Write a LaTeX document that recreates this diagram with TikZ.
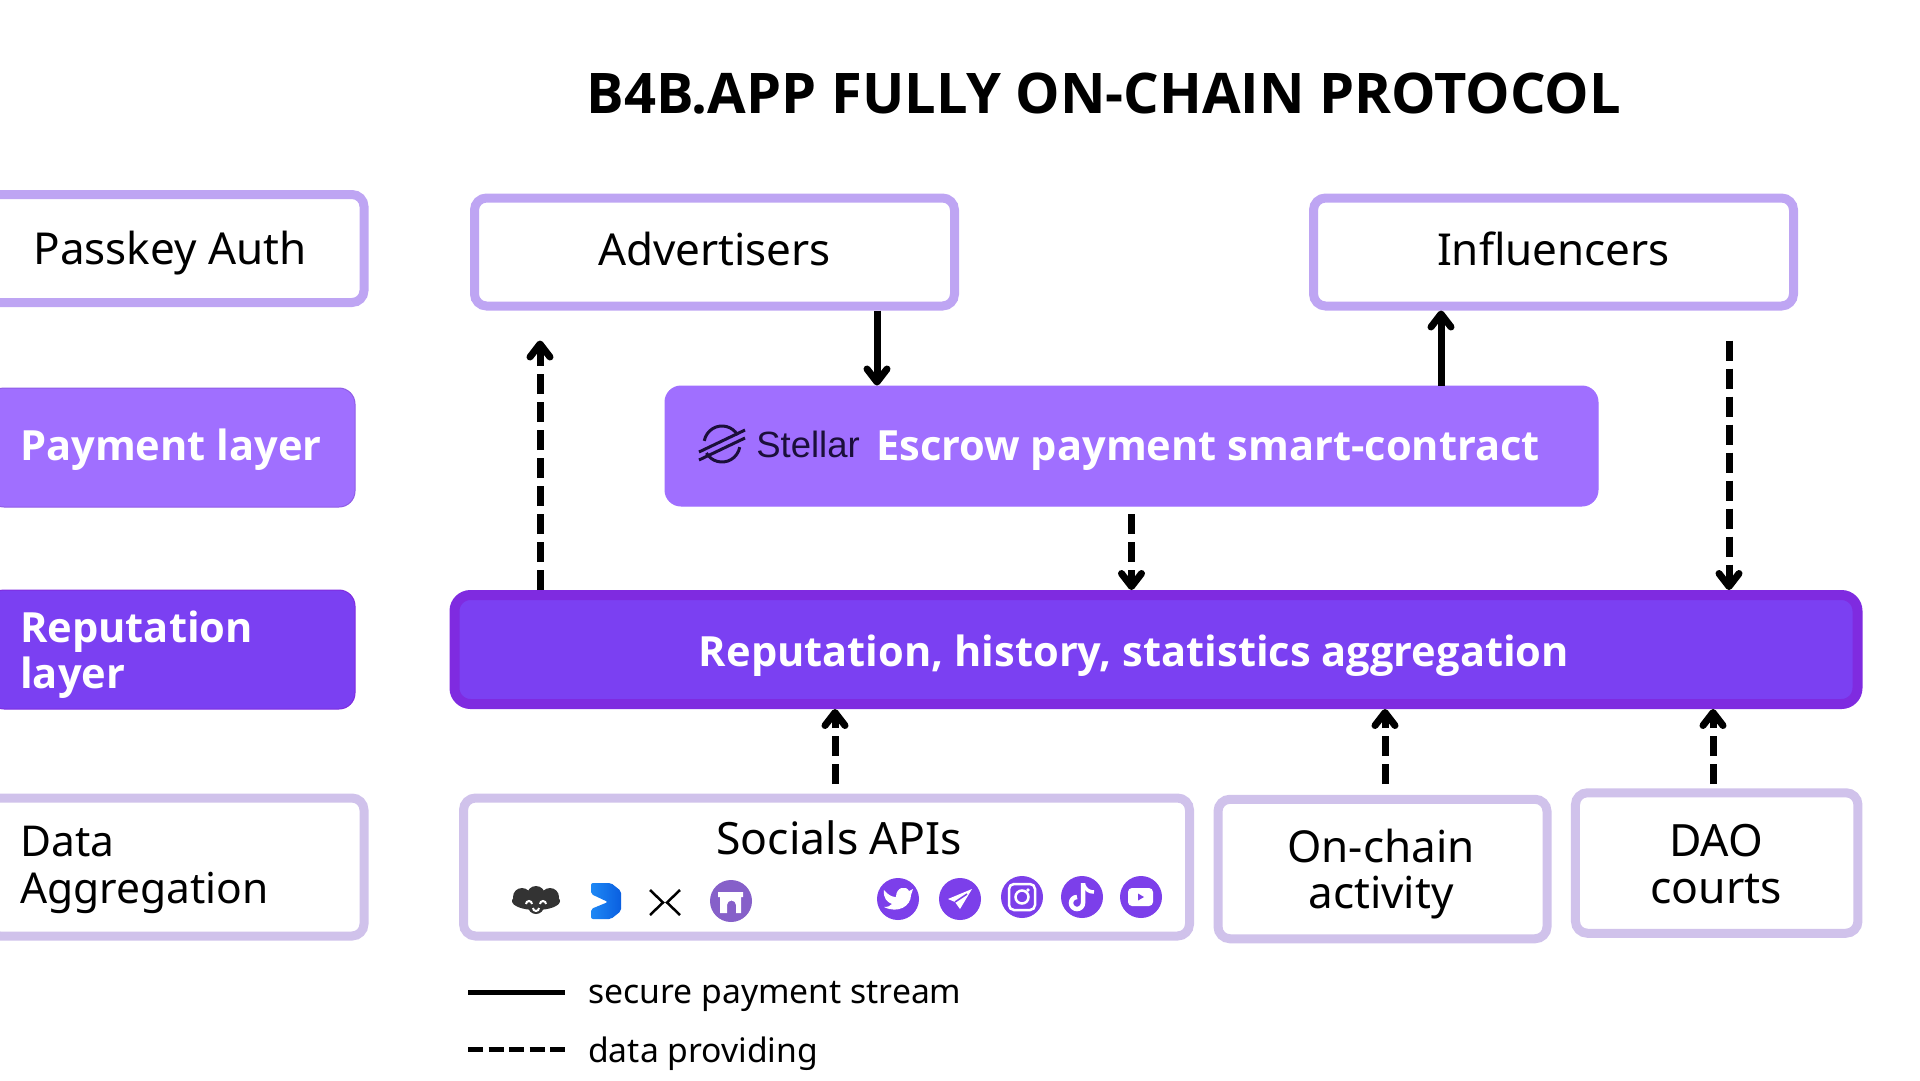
\documentclass[tikz,border=0pt]{standalone}
\usepackage{fontspec}
\setmainfont{Noto Sans}
\newfontfamily\titlefont{Open Sans}
\newfontfamily\stellarfont{Liberation Sans}
\usetikzlibrary{arrows.meta}
\definecolor{authline}{HTML}{BEA5F3}
\definecolor{dataline}{HTML}{D0C2EB}
\definecolor{payfill}{HTML}{A06FFF}
\definecolor{payline}{HTML}{8F5CE6}
\definecolor{repfill}{HTML}{7B40F2}
\definecolor{repline}{HTML}{7F2BE0}
\definecolor{iconfill}{HTML}{7C3FEA}
\definecolor{archfill}{HTML}{8660C9}
\definecolor{stellarink}{HTML}{1B0F3A}
\definecolor{blueleft}{HTML}{1E88F5}
\definecolor{blueright}{HTML}{0A5FE0}
\tikzset{
  authbox/.style={draw=authline,line width=9pt,fill=white,rounded corners=12pt,font=\fontsize{44}{46.5}\selectfont,minimum height=108pt},
  databox/.style={draw=dataline,line width=9pt,fill=white,rounded corners=12pt,font=\fontsize{44}{46.5}\selectfont,align=center},
  paybox/.style={draw=payline,line width=1pt,fill=payfill,rounded corners=16pt},
  repbox/.style={draw=repline,line width=1pt,fill=repfill,rounded corners=16pt},
  whitetext/.style={text=white,font=\titlefont\fontsize{41.6}{46.5}\selectfont\bfseries},
  flow/.style={line width=7pt,-{Straight Barb[length=13pt,width=20pt,line cap=round,line join=round]}},
  payflow/.style={flow},
  dataflow/.style={flow,dash pattern=on 20pt off 8pt},
  socialdot/.style={circle,fill=iconfill,minimum size=42pt,inner sep=0pt}
}
\begin{document}
\begin{tikzpicture}[x=1pt,y=-1pt]
\useasboundingbox (0,0) rectangle (1920,1080);
\clip (0,0) rectangle (1920,1080);
\node[font=\titlefont\fontsize{56}{66}\selectfont\bfseries] (title) at (1104,94) {B4B.APP FULLY ON-CHAIN PROTOCOL};
% left column
\node[authbox,minimum width=388pt,text height=33pt,text depth=2pt] (passkey) at (170,248.5) {Passkey Auth};
\node[paybox,minimum width=367pt,minimum height=119pt] (paylayer) at (171.5,447.5) {};
\node[whitetext,anchor=west,inner sep=0pt] (paytxt) at (20,450) {Payment layer};
\node[repbox,minimum width=367pt,minimum height=119pt] (replayer) at (171.5,649.5) {};
\node[whitetext,anchor=west,inner sep=0pt,align=left] (reptxt) at (20,654.5) {Reputation\\layer};
\node[databox,minimum width=376pt,minimum height=138pt] (dataagg) at (176,867) {};
\node[font=\fontsize{42.5}{46.5}\selectfont,anchor=west,inner sep=0pt,align=left] (datatxt) at (20,870) {Data\\Aggregation};
% main blocks
\node[authbox,minimum width=480pt,text height=33pt,text depth=6pt] (advertisers) at (714.5,252) {Advertisers};
\node[authbox,minimum width=480pt,text height=33pt,text depth=6pt] (influencers) at (1553.5,252) {Influencers};
\node[paybox,draw=payfill,minimum width=933pt,minimum height=120pt] (stellar) at (1131.5,446) {};
\node[whitetext] (escrow) at (1208,451) {Escrow payment smart-contract};
\node[text=stellarink,font=\stellarfont\fontsize{36.5}{44}\selectfont] (stellarname) at (808,444) {Stellar};
\node[repbox,line width=10pt,minimum width=1403pt,minimum height=109pt] (repmain) at (1156,649.5) {};
\node[whitetext] (repmaintxt) at (1134,656) {Reputation, history, statistics aggregation};
\node[databox,minimum width=726pt,minimum height=138pt] (socials) at (826.5,867) {};
\node[font=\fontsize{44.5}{46.5}\selectfont] (socialstxt) at (839,838) {Socials APIs};
\node[databox,minimum width=329pt,minimum height=139.5pt] (onchain) at (1382.5,869) {};
\node[font=\fontsize{44}{46.5}\selectfont,align=center] (onchaintxt) at (1381,874) {On-chain\\activity};
\node[databox,minimum width=282.5pt,minimum height=140.5pt] (dao) at (1716.7,863) {};
\node[font=\fontsize{44.5}{46.5}\selectfont,align=center] (daotxt) at (1716,864) {DAO\\courts};
% connectors
\coordinate (advback) at (540,340.5);
\coordinate (advdown) at (877,0);
\coordinate (infoup) at (1441,0);
\coordinate (inftorep) at (1729,340.5);
\coordinate (escdown) at (1131.5,514);
\coordinate (socup) at (835,784);
\coordinate (chainup) at (1385,784);
\coordinate (daoup) at (1713,784);
\draw[dataflow] (advback |- repmain.north) -- (advback);
\draw[payflow] (advdown |- advertisers.south) -- (advdown |- stellar.north);
\draw[payflow] (infoup |- stellar.north) -- (infoup |- influencers.south);
\draw[dataflow] (inftorep) -- (inftorep |- repmain.north);
\draw[dataflow] (escdown) -- (escdown |- repmain.north);
\draw[dataflow] (socup) -- (socup |- repmain.south);
\draw[dataflow] (chainup) -- (chainup |- repmain.south);
\draw[dataflow] (daoup) -- (daoup |- repmain.south);
% stellar logo
\draw[line width=3pt,stellarink] (737.6,435) arc (30:170:18pt);
\draw[line width=3pt,stellarink] (706.4,453) arc (210:350:18pt);
\draw[line width=3pt,stellarink] (699,452) -- (745,430);
\draw[line width=3pt,stellarink] (699,460) -- (745,438);
% icons
\fill[black!80] (522,897) circle (9pt) (536,895) circle (9pt) (550,897) circle (9pt) (536,906) circle (8pt);
\fill[black!80] (536,901) ellipse (24pt and 9pt);
\draw[white,line width=2pt] (526,904) arc (180:0:3pt) (540,904) arc (180:0:3pt) (533,908) arc (180:360:3pt);
\shade[left color=blueleft,right color=blueright,rounded corners=2pt] (591,883) -- (611,883) -- (621,891) -- (621,911) -- (611,919) -- (591,919) -- (591,909) -- (608,902) -- (591,894) -- cycle;
\draw[line width=2.5pt] (650,890) -- (663,902.5) -- (650,915) (680,890) -- (667,902.5) -- (680,915);
\fill[archfill] (731,901) circle (21pt);
\fill[white] (718,892) -- (743,892) -- (743,897) -- (741,897) -- (741,913) -- (736,913) -- (736,905) arc (0:180:4.5pt) -- (727,913) -- (720,913) -- (720,897) -- (718,897) -- cycle;
\foreach \x/\y/\n in {898/899/dottw,960/899/dottg,1022/897/dotig,1082/897/dottt,1141/897/dotyt}
  \node[socialdot] (\n) at (\x,\y) {};
% twitter
\fill[white,shift={(-12,-10)}] (896,900) .. controls (900,905) and (904,907) .. (908,907) .. controls (908,897) and (918,895) .. (921,901) -- (925,899) -- (923,905) .. controls (923,916) and (910,924) .. (896,917) .. controls (900,917) and (902,916) .. (904,914) .. controls (899,912) and (895,908) .. (896,900) -- cycle;
% telegram
\fill[white] (972,889) -- (948,899) -- (955,902) -- (960,909) -- cycle;
\draw[iconfill,line width=1.5pt] (955,902) -- (967,894);
% instagram
\draw[white,line width=2.5pt,rounded corners=5pt] (1009,884) rectangle (1035,910);
\draw[white,line width=2.5pt] (1022,897) circle (6.5pt);
\fill[white] (1028,890) circle (1.8pt);
% tiktok
\draw[white,line width=4.5pt] (1083,883) -- (1083,903) arc (0:-270:6pt);
\draw[white,line width=3.5pt] (1083,884) .. controls (1086,890) and (1089,892) .. (1094,892);
% youtube
\fill[white,rounded corners=4pt] (1128,888) rectangle (1153,906);
\fill[iconfill] (1138,893.5) -- (1144,897) -- (1138,900.5) -- cycle;
% legend
\coordinate (solida) at (468,992);
\coordinate (solidb) at (564.5,992);
\coordinate (dasha) at (468,1049);
\coordinate (dashb) at (564.5,1049);
\draw[line width=5pt] (solida) -- (solidb);
\draw[line width=5pt,dash pattern=on 15pt off 5.5pt] (dasha) -- (dashb);
\node[anchor=west,inner sep=0pt,font=\fontsize{33.7}{40}\selectfont] (solidtxt) at (588,996.5) {secure payment stream};
\node[anchor=west,inner sep=0pt,font=\fontsize{33.7}{40}\selectfont] (dashtxt) at (588,1054) {data providing};
\end{tikzpicture}
\end{document}
